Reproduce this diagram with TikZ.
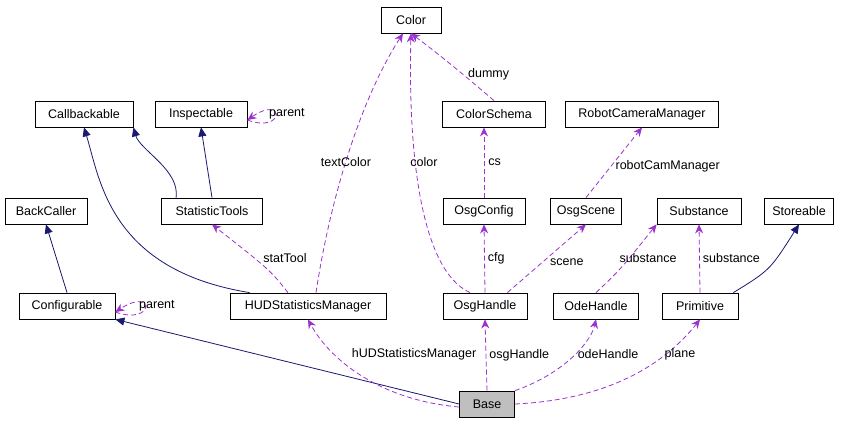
\documentclass[tikz,border=0pt]{standalone}
\usepackage{fontspec}
\setmainfont{Liberation Sans}
\usetikzlibrary{arrows.meta}
\begin{document}
\begin{tikzpicture}[x=1pt,y=-1pt,
 box/.style={draw,thick,minimum height=26pt,inner xsep=3pt,font=\fontsize{12.5}{14}\selectfont},
 inh/.style={draw={rgb,255:red,25;green,25;blue,112},thick,-{Triangle[length=9pt,width=8pt]}},
 use/.style={draw={rgb,255:red,154;green,50;blue,205},thick,dashed,dash pattern=on 5pt off 3pt,-{Stealth[length=9pt,width=8pt]}},
 lab/.style={font=\fontsize{12.5}{14}\selectfont,inner sep=1pt}]
\useasboundingbox (0,0) rectangle (845,424);
\node[box,minimum width=60pt] (color) at (411,20) {Color};
\node[box,minimum width=98pt] (cb) at (84,114) {Callbackable};
\node[box,minimum width=92pt] (insp) at (201,114) {Inspectable};
\node[box,minimum width=103pt] (cs) at (494,114) {ColorSchema};
\node[box,minimum width=153pt] (rcm) at (642,114) {RobotCameraManager};
\node[box,minimum width=82pt] (bc) at (46,211) {BackCaller};
\node[box,minimum width=101pt] (st) at (212,211) {StatisticTools};
\node[box,minimum width=82pt] (oc) at (484,211) {OsgConfig};
\node[box,minimum width=71pt] (os) at (586,211) {OsgScene};
\node[box,minimum width=84pt] (sub) at (699,211) {Substance};
\node[box,minimum width=69pt] (sto) at (799,211) {Storeable};
\node[box,minimum width=96pt] (conf) at (67,306) {Configurable};
\node[box,minimum width=156pt] (hud) at (308,306) {HUDStatisticsManager};
\node[box,minimum width=84pt] (oh) at (485,306) {OsgHandle};
\node[box,minimum width=85pt] (odh) at (596,306) {OdeHandle};
\node[box,minimum width=76pt] (prim) at (700,306) {Primitive};
\node[box,minimum width=55pt,fill={rgb,255:red,191;green,191;blue,191}] (base) at (487,404) {Base};
% inheritance
\draw[inh] (base.west) -- (conf.south east);
\draw[inh] (conf.north) -- (bc.south);
\draw[inh] (st.north) -- (insp.south);
\draw[inh] (st.north west) ++(15,0) coordinate (s1) .. controls (180,170) and (140,150) .. (cb.south east);
\draw[inh] (hud.north west) ++(20,0) coordinate (h1) .. controls (110,270) and (100,180) .. (cb.south);
\draw[inh] (prim.north east) ++(-5,0) coordinate (p1) .. controls (770,270) .. (sto.south);
% self loops
\draw[use] (insp.east) ++(0,6) coordinate (i1) .. controls (285,134) and (285,94) .. ([yshift=-6pt]insp.east);
\node[lab,anchor=west] at (268,114) {parent};
\draw[use] (conf.east) ++(0,6) coordinate (c1) .. controls (155,326) and (155,286) .. ([yshift=-6pt]conf.east);
\node[lab,anchor=west] at (138,306) {parent};
% usage
\draw[use] (cs.north) .. controls (470,80) and (440,55) .. (color.south) node[lab,pos=0.4,right=4pt] {dummy};
\draw[use] (hud.north) ++(8,0) coordinate (h2) .. controls (330,200) and (360,100) .. ([xshift=-8pt]color.south);
\node[lab] at (346,162) {textColor};
\draw[use] (oh.north) ++(-15,0) coordinate (o1) .. controls (420,270) and (408,150) .. (color.south);
\node[lab] at (424,162) {color};
\draw[use] (oc.north) -- (cs.south -| oc.north) node[lab,pos=0.5,right=3pt] {cs};
\draw[use] (os.north) -- (rcm.south) node[lab,pos=0.45,right=3pt] {robotCamManager};
\draw[use] (oh.north) -- (oc.south) node[lab,pos=0.5,right=2pt] {cfg};
\draw[use] (oh.north east) ++(-20,0) coordinate (o2) -- (os.south) node[lab,pos=0.45,right=6pt] {scene};
\draw[use] (odh.north) .. controls (620,270) .. (sub.south west);
\node[lab] at (648,258) {substance};
\draw[use] (prim.north) -- (sub.south) node[lab,pos=0.5,right=2pt] {substance};
\draw[use] (hud.north) ++(-20,0) coordinate (h3) .. controls (270,270) .. (st.south);
\node[lab] at (285,258) {statTool};
\draw[use] (base.west) ++(0,3) coordinate (b1) .. controls (380,400) and (330,360) .. (hud.south);
\node[lab] at (414,354) {hUDStatisticsManager};
\draw[use] (base.north) -- (oh.south) node[lab,pos=0.5,right=2pt] {osgHandle};
\draw[use] (base.north east) .. controls (560,375) and (590,345) .. (odh.south);
\node[lab] at (608,354) {odeHandle};
\draw[use] (base.east) .. controls (600,400) and (660,370) .. (prim.south);
\node[lab] at (680,354) {plane};
\end{tikzpicture}
\end{document}
